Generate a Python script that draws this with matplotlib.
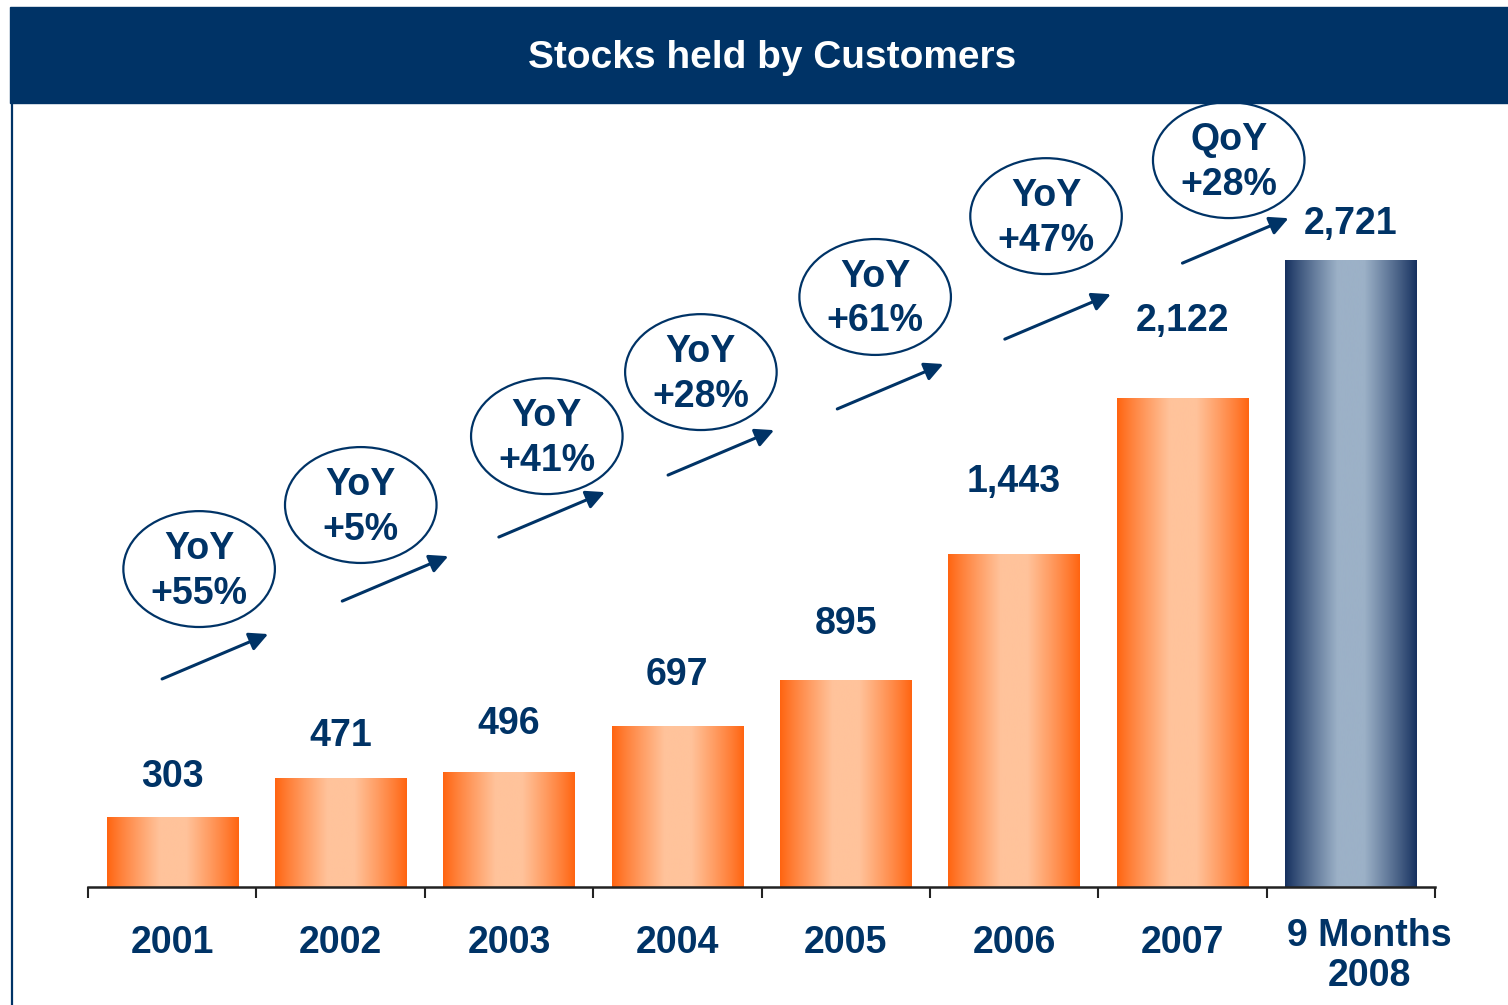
import matplotlib
matplotlib.use("Agg")
import matplotlib.pyplot as plt
import matplotlib.patches as mpatches
from matplotlib.colors import LinearSegmentedColormap
import matplotlib.transforms as mtransforms
import numpy as np

# data
categories = ["2001", "2002", "2003", "2004", "2005", "2006", "2007", "9 Months\n2008"]
values = [303, 471, 496, 697, 895, 1443, 2122, 2721]
growth_kind = ["YoY", "YoY", "YoY", "YoY", "YoY", "YoY", "QoY"]
growth_pct = [55, 5, 41, 28, 61, 47, 28]

# layout: gap between bar top and label centre (px), arrow starts / bubble centres (data units)
label_gap_px = [40, 42, 49, 51, 57, 73, 77, 36]
arrow_x0 = [-0.06, 1.01, 1.94, 2.945, 3.95, 4.945, 6.0]
arrow_y0 = [903, 1241, 1519, 1788, 2075, 2378, 2708]
bubble_x = [0.16, 1.12, 2.225, 3.14, 4.175, 5.19, 6.275]
bubble_y = [1380, 1658, 1957, 2235, 2561, 2912, 3155]

navy = "#003366"
plt.rcParams["font.family"] = ["Liberation Sans", "DejaVu Sans"]
plt.rcParams["font.weight"] = "bold"

W, H = 1508, 1005
fig = plt.figure(figsize=(W / 100, H / 100), dpi=100)

# title bar + left rule
fig.patches.append(mpatches.Rectangle((10 / W, 1 - 103 / H), 1, 96 / H,
                                      transform=fig.transFigure, color=navy, zorder=0))
fig.lines.append(plt.Line2D([12 / W, 12 / W], [0, 1 - 103 / H], transform=fig.transFigure,
                            color=navy, lw=1.6))
fig.text(772 / W, 1 - 58 / H, "Stocks held by Customers", color="white",
         fontsize=28, fontweight="bold", ha="center", va="center")

ax = fig.add_axes([88 / W, 1 - 887 / H, 1347 / W, 784 / H])
ax.set_xlim(-0.5, len(categories) - 0.5)
ax.set_ylim(0, 3403)
for s in ["top", "left", "right"]:
    ax.spines[s].set_visible(False)
ax.spines["bottom"].set_linewidth(1.8)
ax.spines["bottom"].set_color("#222222")
ax.set_yticks([])
ax.set_xticks(np.arange(len(categories) + 1) - 0.5)
ax.set_xticklabels([])
ax.tick_params(axis="x", length=8, width=1.5, color="#222222", direction="out")

orange_cmap = LinearSegmentedColormap.from_list("og", ["#FF6410", "#FFC39B"])
blue_cmap = LinearSegmentedColormap.from_list("bl", ["#15305F", "#9CB1C7"])
xx = np.linspace(0, 1, 200)
prof = 1 - np.abs(xx - 0.5) * 2
prof = np.clip(prof * 1.25, 0, 1) ** 0.9
grad = prof[np.newaxis, :]

bw = 0.78
for i, v in enumerate(values):
    cmap = blue_cmap if i == len(values) - 1 else orange_cmap
    ax.imshow(grad, cmap=cmap, extent=[i - bw / 2, i + bw / 2, 0, v],
              aspect="auto", vmin=0, vmax=1, zorder=2, interpolation="bicubic")
    ax.annotate(f"{v:,}", (i, v), xytext=(0, label_gap_px[i] * 0.72),
                textcoords="offset points", ha="center", va="center",
                fontsize=27, color=navy, fontweight="bold")

ax.set_xlim(-0.5, len(categories) - 0.5)
ax.set_ylim(0, 3403)

trans = mtransforms.blended_transform_factory(ax.transData, ax.transAxes)
for i, c in enumerate(categories):
    if "\n" in c:
        ax.text(i + 0.11, -0.088, c, transform=trans, ha="center", va="center",
                fontsize=27, color=navy, fontweight="bold", linespacing=1.15)
    else:
        ax.text(i, -0.072, c, transform=trans, ha="center", va="center",
                fontsize=27, color=navy, fontweight="bold")

# growth arrows and bubbles
for i, (k, g) in enumerate(zip(growth_kind, growth_pct)):
    x0, y0 = arrow_x0[i], arrow_y0[i]
    ax.annotate("", xy=(x0 + 0.63, y0 + 195), xytext=(x0, y0),
                arrowprops=dict(arrowstyle="-|>", color=navy, lw=2.2,
                                mutation_scale=28, shrinkA=0, shrinkB=0),
                zorder=3, annotation_clip=False)
    cx, cy = bubble_x[i], bubble_y[i]
    ax.add_patch(mpatches.Ellipse((cx, cy), 0.9, 503, fill=False, ec=navy,
                                  lw=1.6, zorder=3, clip_on=False))
    ax.text(cx, cy - 10, f"{k}\n+{g}%", ha="center", va="center", fontsize=27,
            color=navy, fontweight="bold", linespacing=1.3, zorder=4)

fig.savefig("out.png", dpi=100)
